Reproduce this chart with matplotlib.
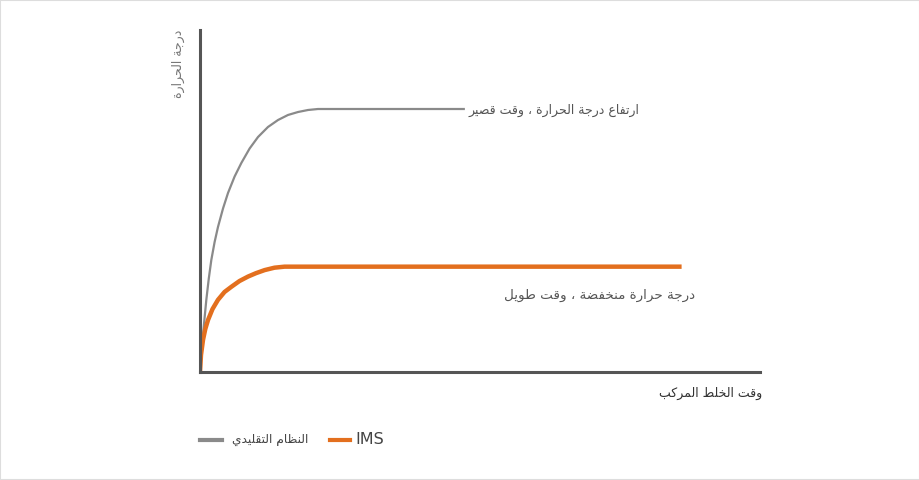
#------------Imports----------------------------------#
import matplotlib
matplotlib.use('Agg')
import matplotlib.pyplot as plt
from matplotlib.patches import Rectangle
from matplotlib.lines import Line2D
#-----------------------------------------------------#

#----Data (x: mixing time 0-100, y: temperature 0-100)----#
conv_x = [0, 0.27, 1.125, 1.57, 2.02, 2.61, 3.21, 4.11, 5.0, 6.18, 7.38, 8.86,
          10.36, 12.14, 13.93, 15.71, 17.5, 19.29, 21.07, 47.3]
conv_y = [0, 6.43, 21.05, 27.34, 32.75, 38.01, 42.40, 47.81, 52.34, 57.16, 61.11,
          65.35, 68.71, 71.64, 73.68, 75.15, 76.02, 76.61, 76.9, 76.9]
ims_x = [0, 0.18, 0.54, 0.95, 1.43, 2.23, 3.21, 4.38, 5.59, 7.05, 8.57, 10.0,
         11.55, 13.3, 15.1, 18.7, 86.0]
ims_y = [0, 5.0, 9.4, 12.6, 15.2, 18.4, 21.1, 23.4, 24.9, 26.6, 27.9, 28.9,
         29.8, 30.5, 30.8, 30.8, 30.8]

series_names = ['النظام التقليدي', 'IMS']
label_high = 'ارتفاع درجة الحرارة ، وقت قصير'
label_low = 'درجة حرارة منخفضة ، وقت طويل'
x_title = 'وقت الخلط المركب'
y_title = 'درجة الحرارة'
#------------------------------------------------------------------------------#

#----Minimal Arabic shaping (matplotlib has no shaping / bidi)------------------#
FORMS = {  # isolated, final, initial, medial
    'ا': (0xFE8D, 0xFE8E, None, None), 'ب': (0xFE8F, 0xFE90, 0xFE91, 0xFE92),
    'ة': (0xFE93, 0xFE94, None, None), 'ت': (0xFE95, 0xFE96, 0xFE97, 0xFE98),
    'ج': (0xFE9D, 0xFE9E, 0xFE9F, 0xFEA0), 'ح': (0xFEA1, 0xFEA2, 0xFEA3, 0xFEA4),
    'خ': (0xFEA5, 0xFEA6, 0xFEA7, 0xFEA8), 'د': (0xFEA9, 0xFEAA, None, None),
    'ر': (0xFEAD, 0xFEAE, None, None), 'س': (0xFEB1, 0xFEB2, 0xFEB3, 0xFEB4),
    'ص': (0xFEB9, 0xFEBA, 0xFEBB, 0xFEBC), 'ض': (0xFEBD, 0xFEBE, 0xFEBF, 0xFEC0),
    'ط': (0xFEC1, 0xFEC2, 0xFEC3, 0xFEC4), 'ظ': (0xFEC5, 0xFEC6, 0xFEC7, 0xFEC8),
    'ع': (0xFEC9, 0xFECA, 0xFECB, 0xFECC), 'ف': (0xFED1, 0xFED2, 0xFED3, 0xFED4),
    'ق': (0xFED5, 0xFED6, 0xFED7, 0xFED8), 'ك': (0xFED9, 0xFEDA, 0xFEDB, 0xFEDC),
    'ل': (0xFEDD, 0xFEDE, 0xFEDF, 0xFEE0), 'م': (0xFEE1, 0xFEE2, 0xFEE3, 0xFEE4),
    'ن': (0xFEE5, 0xFEE6, 0xFEE7, 0xFEE8), 'ه': (0xFEE9, 0xFEEA, 0xFEEB, 0xFEEC),
    'و': (0xFEED, 0xFEEE, None, None), 'ي': (0xFEF1, 0xFEF2, 0xFEF3, 0xFEF4),
}

def dual(c):
    return c in FORMS and FORMS[c][2] is not None

def shape(text):
    out = []
    i = 0
    while i < len(text):
        c = text[i]
        prev = text[i - 1] if i > 0 else ''
        nxt = text[i + 1] if i + 1 < len(text) else ''
        if c not in FORMS:
            out.append(c)
            i += 1
            continue
        joins_prev = dual(prev)
        if c == 'ل' and nxt == 'ا':          # lam-alef ligature
            out.append(chr(0xFEFC if joins_prev else 0xFEFB))
            i += 2
            continue
        joins_next = dual(c) and nxt in FORMS
        f = FORMS[c]
        if joins_prev and joins_next:
            out.append(chr(f[3]))
        elif joins_prev:
            out.append(chr(f[1]))
        elif joins_next:
            out.append(chr(f[2]))
        else:
            out.append(chr(f[0]))
        i += 1
    return ''.join(reversed(out))           # visual order for LTR drawing
#------------------------------------------------------------------------------#

grey = '#8a8a8a'
orange = '#e36f1e'
axis_col = '#555555'
text_col = '#555555'
ar_font = ['DejaVu Sans']

fig = plt.figure(figsize=(9.2, 4.8), dpi=100)
fig.patches.append(Rectangle((0, 0), 1, 1, transform=fig.transFigure, fill=False,
                             edgecolor='#dddddd', linewidth=1.5))
ax = fig.add_axes([200 / 920, 108 / 480, 560 / 920, 342 / 480])

ax.plot(conv_x, conv_y, color=grey, linewidth=1.6, solid_capstyle='butt',
        solid_joinstyle='round')
ax.plot(ims_x, ims_y, color=orange, linewidth=3.2, solid_capstyle='butt',
        solid_joinstyle='round')

ax.set_xlim(0, 100)
ax.set_ylim(0, 100)
ax.set_xticks([])
ax.set_yticks([])
for side in ['top', 'right']:
    ax.spines[side].set_visible(False)
for side in ['left', 'bottom']:
    ax.spines[side].set_color(axis_col)
    ax.spines[side].set_linewidth(2.2)

#----Curve labels-----------------------------------------------------------------#
ax.text(78.5, 76.5, shape(label_high), ha='right', va='center', fontsize=9,
        color=text_col, family=ar_font)
ax.text(88.5, 22.5, shape(label_low), ha='right', va='center', fontsize=9.7,
        color=text_col, family=ar_font)

#----Axis titles------------------------------------------------------------------#
fig.text(762 / 920, 1 - 393 / 480, shape(x_title), ha='right', va='center',
         fontsize=9, color='#333333', family=ar_font)
fig.text(178 / 920, 1 - 30 / 480, shape(y_title), ha='center', va='top',
         rotation=90, fontsize=9, color='#777777', family=ar_font)

#----Legend (placed by hand)----------------------------------------------------#
ly = 1 - 440 / 480
fig.add_artist(Line2D([200 / 920, 222 / 920], [ly, ly], color=grey, linewidth=3,
                      transform=fig.transFigure))
fig.text(232 / 920, ly, shape(series_names[0]), ha='left', va='center',
         fontsize=8.8, color='#444444', family=ar_font)
fig.add_artist(Line2D([330 / 920, 350 / 920], [ly, ly], color=orange, linewidth=3,
                      transform=fig.transFigure))
fig.text(355 / 920, ly, series_names[1], ha='left', va='center',
         fontsize=11.5, color='#444444', family=ar_font)

plt.savefig('out.png', dpi=100)
